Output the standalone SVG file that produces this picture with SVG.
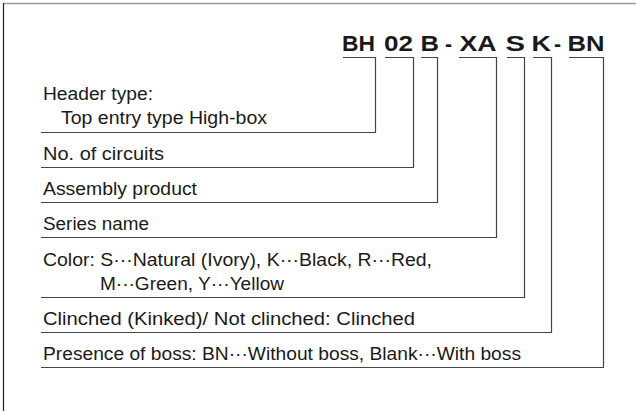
<svg xmlns="http://www.w3.org/2000/svg" width="636" height="411" viewBox="0 0 636 411">
<style>
.code{font-family:"Liberation Sans",Arial,sans-serif;font-weight:bold;font-size:22px;fill:#1a1a1a}
.lbl{font-family:"Liberation Sans",Arial,"Noto Sans CJK JP",sans-serif;font-size:17.5px;fill:#1a1a1a}
.conn{fill:none;stroke:#444;stroke-width:1.2}
</style>
<rect width="636" height="411" fill="#fff"/>
<g id="frame">
<line x1="3" y1="3.5" x2="636" y2="3.5" stroke="#999" stroke-width="1.4"/>
<line x1="3.5" y1="3" x2="3.5" y2="411" stroke="#222" stroke-width="1.2"/>
</g>
<g id="code">
<g id="seg-BH"><text class="code" x="342" y="51" textLength="33" lengthAdjust="spacingAndGlyphs">BH</text></g>
<g id="seg-02"><text class="code" x="384" y="51" textLength="29" lengthAdjust="spacingAndGlyphs">02</text></g>
<g id="seg-B"><text class="code" x="420.5" y="51" textLength="18.5" lengthAdjust="spacingAndGlyphs">B</text></g>
<g id="dash1"><text class="code" x="445" y="51" textLength="7" lengthAdjust="spacingAndGlyphs">-</text></g>
<g id="seg-XA"><text class="code" x="459.5" y="51" textLength="37" lengthAdjust="spacingAndGlyphs">XA</text></g>
<g id="seg-S"><text class="code" x="505.5" y="51" textLength="19.5" lengthAdjust="spacingAndGlyphs">S</text></g>
<g id="seg-K"><text class="code" x="531.5" y="51" textLength="19.5" lengthAdjust="spacingAndGlyphs">K</text></g>
<g id="dash2"><text class="code" x="554" y="51" textLength="7" lengthAdjust="spacingAndGlyphs">-</text></g>
<g id="seg-BN"><text class="code" x="567.5" y="51" textLength="37" lengthAdjust="spacingAndGlyphs">BN</text></g>
</g>
<g id="connectors">
<path class="conn" d="M343 57.5H375.5V132.5H41"/>
<path class="conn" d="M385 57.5H413.5V167.5H41"/>
<path class="conn" d="M421 57.5H437.5V202.5H41"/>
<path class="conn" d="M459 57.5H496.5V237.5H41"/>
<path class="conn" d="M507 57.5H524.5V297.5H41"/>
<path class="conn" d="M533 57.5H551.5V332.5H41"/>
<path class="conn" d="M569 57.5H603.5V367.5H41"/>
</g>
<g id="row-header"><text class="lbl" x="43" y="100" textLength="110" lengthAdjust="spacingAndGlyphs">Header type:</text><text class="lbl" x="61" y="124" textLength="206" lengthAdjust="spacingAndGlyphs">Top entry type High-box</text></g>
<g id="row-circuits"><text class="lbl" x="43" y="160" textLength="121" lengthAdjust="spacingAndGlyphs">No. of circuits</text></g>
<g id="row-assembly"><text class="lbl" x="43" y="195" textLength="154" lengthAdjust="spacingAndGlyphs">Assembly product</text></g>
<g id="row-series"><text class="lbl" x="43" y="230" textLength="106" lengthAdjust="spacingAndGlyphs">Series name</text></g>
<g id="row-color"><text class="lbl" x="43" y="266" textLength="389" lengthAdjust="spacingAndGlyphs">Color: S···Natural (Ivory), K···Black, R···Red,</text><text class="lbl" x="100" y="290" textLength="184" lengthAdjust="spacingAndGlyphs">M···Green, Y···Yellow</text></g>
<g id="row-clinched"><text class="lbl" x="43" y="325" textLength="372" lengthAdjust="spacingAndGlyphs">Clinched (Kinked)/ Not clinched: Clinched</text></g>
<g id="row-boss"><text class="lbl" x="43" y="360" textLength="478" lengthAdjust="spacingAndGlyphs">Presence of boss: BN···Without boss, Blank···With boss</text></g>
</svg>
